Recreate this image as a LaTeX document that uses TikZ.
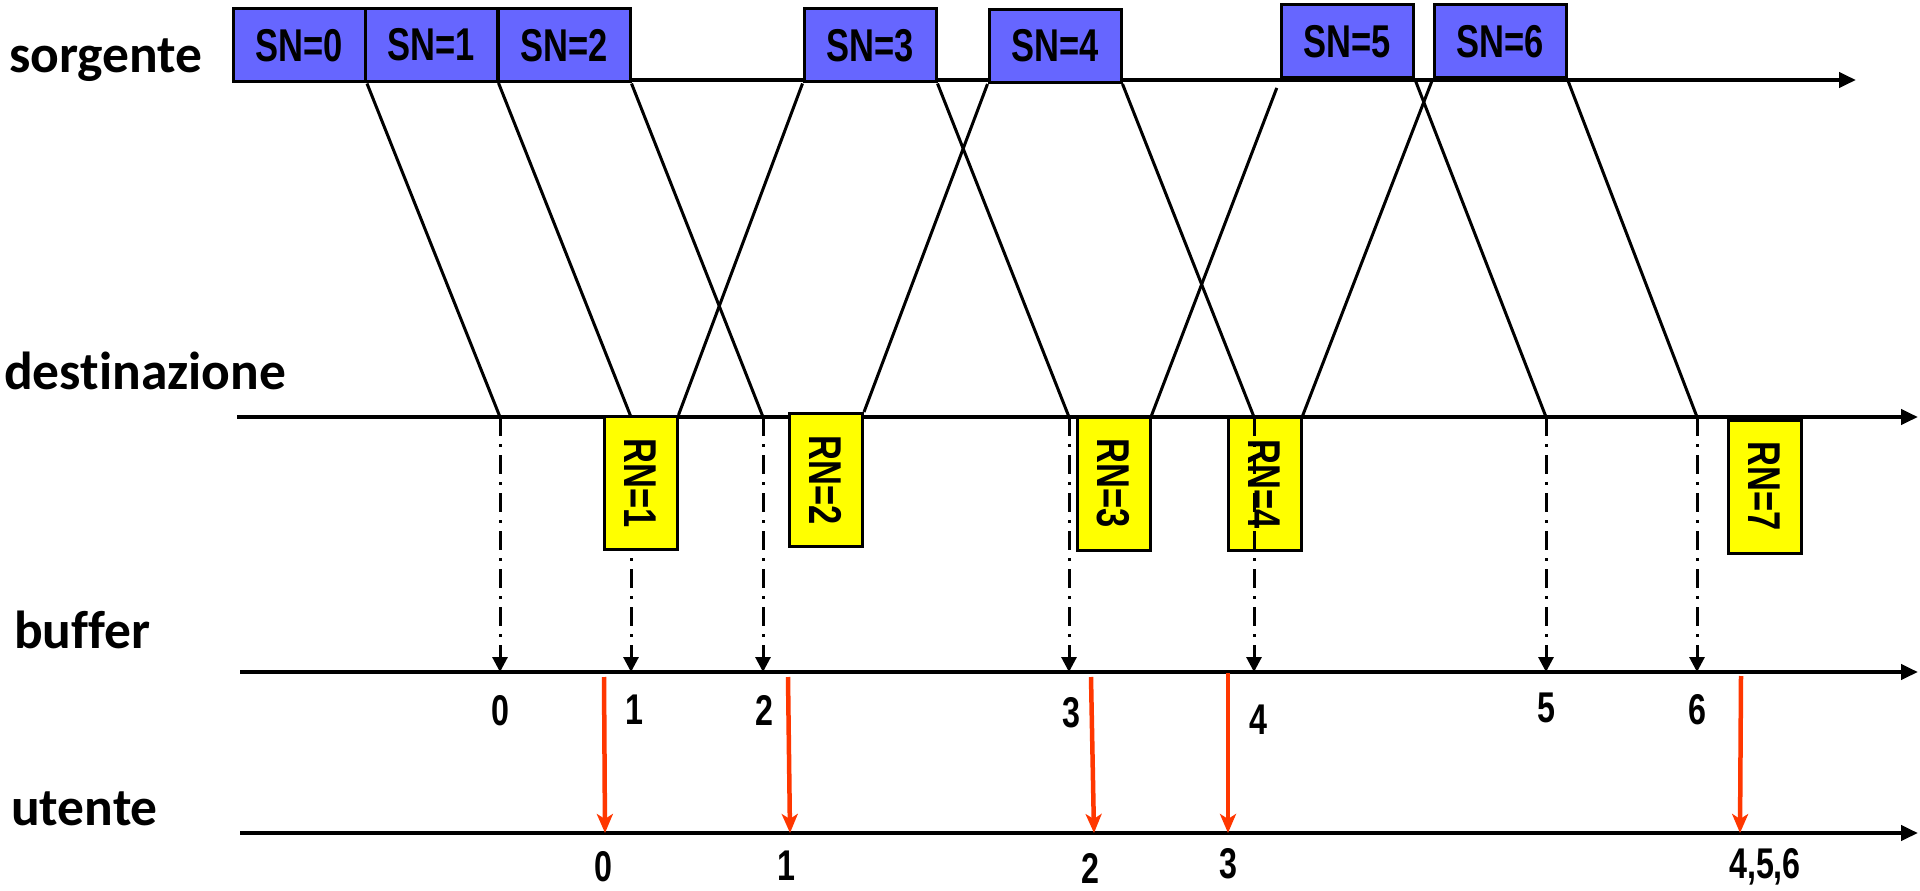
\documentclass[tikz,border=0pt]{standalone}
\usepackage{fontspec}
\usetikzlibrary{arrows.meta}
\newfontfamily\lanefont{Carlito}[Ligatures={NoCommon}]
\newfontfamily\narrowfont{Liberation Sans}[FakeStretch=0.75]
\definecolor{snblue}{RGB}{102,102,255}
\definecolor{rnyellow}{RGB}{255,255,0}
\definecolor{fwdred}{RGB}{255,55,0}

\begin{document}
\begin{tikzpicture}[x=1pt,y=-1pt,
  lane/.style={font={\lanefont\bfseries\fontsize{53.5}{56}\selectfont}, anchor=base west, inner sep=0pt},
  axis/.style={line width=4.2pt, -{Triangle[length=17pt,width=15pt]}},
  snbox/.style={draw, line width=3pt, fill=snblue, minimum width=132pt, minimum height=73pt, inner sep=0pt,
    font={\narrowfont\bfseries\fontsize{46}{50}\selectfont}},
  rnbox/.style={draw, line width=3pt, fill=rnyellow, rotate=-90, minimum width=133pt, minimum height=73pt, inner sep=0pt,
    font={\narrowfont\bfseries\fontsize{46}{50}\selectfont}},
  pkt/.style={line width=3pt},
  ack/.style={line width=3pt},
  deliver/.style={line width=3pt, dash pattern=on 19pt off 8pt on 3pt off 8pt, -{Triangle[length=15pt,width=15pt]}},
  release/.style={fwdred, line width=4.5pt, -{Stealth[length=19pt,width=16pt,inset=5pt]}},
  num/.style={font={\narrowfont\bfseries\fontsize{43}{46}\selectfont}, inner sep=0pt},
]
\fill[white] (0,0) rectangle (1920,891);
\useasboundingbox (0,0) rectangle (1920,891);

% lane labels
\node[lane] (lsrc) at (9,73) {sorgente};
\node[lane] (ldst) at (4,389) {destinazione};
\node[lane] (lbuf) at (14,648) {buffer};
\node[lane] (lusr) at (11,825) {utente};

% time axes
\coordinate (s0) at (234,80);  \coordinate (s1) at (1856,80);
\coordinate (d0) at (237,417); \coordinate (d1) at (1918,417);
\coordinate (b0) at (240,672); \coordinate (b1) at (1918,672);
\coordinate (u0) at (240,833); \coordinate (u1) at (1918,833);
\draw[axis] (s0) -- (s1);
\draw[axis] (d0) -- (d1);
\draw[axis] (b0) -- (b1);
\draw[axis] (u0) -- (u1);

% arrival instants at the destination
\coordinate (a0) at (500,417);
\coordinate (a1) at (631,417);
\coordinate (a2) at (763,417);
\coordinate (a3) at (1069,417);
\coordinate (a4) at (1254,417);
\coordinate (a5) at (1546,417);
\coordinate (a6) at (1697,417);
% matching instants on the buffer axis
\coordinate (q0) at (500,672);
\coordinate (q1) at (631,672);
\coordinate (q2) at (763,672);
\coordinate (q3) at (1069,672);
\coordinate (q4) at (1254,672);
\coordinate (q5) at (1546,672);
\coordinate (q6) at (1697,672);

% packets stored in the buffer
\draw[deliver] (a0) -- (q0);
\draw[deliver] (a1) -- (q1);
\draw[deliver] (a2) -- (q2);
\draw[deliver] (a3) -- (q3);
\draw[deliver] (a5) -- (q5);
\draw[deliver] (a6) -- (q6);

% acknowledgements
\node[rnbox] (rn1) at (640.5,483) {RN=1};
\node[rnbox] (rn2) at (826,480) {RN=2};
\node[rnbox] (rn3) at (1113.5,483.5) {RN=3};
\node[rnbox] (rn4) at (1264.5,484) {RN=4};
\node[rnbox] (rn7) at (1764.5,486.5) {RN=7};

\draw[deliver] (a4) -- (q4);

% frames sent by the source
\node[snbox] (sn0) at (299.5,45.5) {SN=0};
\node[snbox] (sn1) at (431,45) {SN=1};
\node[snbox] (sn2) at (564,45.5) {SN=2};
\node[snbox] (sn3) at (870,45.5) {SN=3};
\node[snbox] (sn4) at (1055,46) {SN=4};
\node[snbox] (sn5) at (1347.5,41.5) {SN=5};
\node[snbox] (sn6) at (1500,41.5) {SN=6};

% forward propagation of the frames
\draw[pkt] (sn0.south east) -- (a0);
\draw[pkt] (sn1.south east) -- (a1);
\draw[pkt] (sn2.south east) -- (a2);
\draw[pkt] (sn3.south east) -- (a3);
\draw[pkt] (sn4.south east) -- (a4);
\draw[pkt] (sn5.south east) -- (a5);
\draw[pkt] (sn6.south east) -- (a6);

% return path of the acknowledgements
\draw[ack] (rn1.north west) -- (sn3.south west);
\draw[ack] (rn2.north west) -- (sn4.south west);
\draw[ack, shorten >=9pt] (rn3.north west) -- (sn5.south west);
\draw[ack] (rn4.north west) -- (sn6.south west);

% buffer sequence numbers
\node[num] (n0) at (500,711) {0};
\node[num] (n1) at (634,710) {1};
\node[num] (n2) at (764,710) {2};
\node[num] (n3) at (1071,713) {3};
\node[num] (n4) at (1258,720) {4};
\node[num] (n5) at (1546,708) {5};
\node[num] (n6) at (1697,710) {6};

% release to the user
\coordinate (r1) at (604,677);  \coordinate (t1) at (605,833);
\coordinate (r2) at (788,677);  \coordinate (t2) at (790,833);
\coordinate (r3) at (1091,677); \coordinate (t3) at (1094,833);
\coordinate (r4) at (1228,673); \coordinate (t4) at (1228,833);
\coordinate (r5) at (1741,676); \coordinate (t5) at (1740,833);
\draw[release] (r1) -- (t1);
\draw[release] (r2) -- (t2);
\draw[release] (r3) -- (t3);
\draw[release] (r4) -- (t4);
\draw[release] (r5) -- (t5);

% numbers delivered to the user
\node[num] (m0) at (603,867) {0};
\node[num] (m1) at (786,866) {1};
\node[num] (m2) at (1090,868) {2};
\node[num] (m3) at (1228,864) {3};
\node[num] (m4) at (1765,867) {4,5,6};
\end{tikzpicture}
\end{document}
